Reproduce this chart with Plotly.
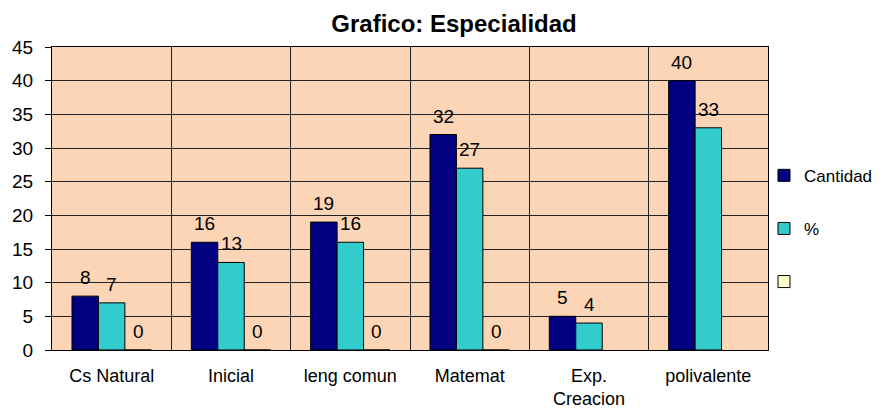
import plotly.graph_objects as go

categories = ["Cs Natural", "Inicial", "leng comun", "Matemat", "Exp.<br>Creacion", "polivalente"]
cantidad = [8, 16, 19, 32, 5, 40]
porcentaje = [7, 13, 16, 27, 4, 33]
tercera = [0, 0, 0, 0, None, None]
y_ticks = [0, 5, 10, 15, 20, 25, 30, 35, 40, 45]

FONT = "Liberation Sans, Arial, sans-serif"

# figure geometry (page has an 8px body margin, so the figure is 8px smaller)
W, H = 882, 401
ML, MR, MT, MB = 44, 122, 39, 59
BARGAP = 0.335
plot_w = W - ML - MR
cat_w = plot_w / len(categories)
bar_w = cat_w * (1 - BARGAP) / 3

fig = go.Figure()
series = [("Cantidad", cantidad, "#000080"), ("%", porcentaje, "#33CCCC"), ("", tercera, "#FFFFCC")]
for i, (name, vals, color) in enumerate(series):
    fig.add_trace(go.Bar(
        x=categories, y=vals, name=name, showlegend=True, legendgroup=f"g{i}",
        marker=dict(color=color, line=dict(color="black", width=1)),
    ))
    for cat, v in zip(categories, vals):
        if v is None:
            continue
        fig.add_annotation(
            x=cat, y=v, xref="x", yref="y", text=str(v), showarrow=False,
            xanchor="center", yanchor="bottom", xshift=(i - 1) * bar_w, yshift=6,
            font=dict(family=FONT, size=19, color="black"),
        )

fig.update_layout(
    width=W, height=H,
    margin=dict(l=ML, r=MR, t=MT, b=MB),
    paper_bgcolor="white", plot_bgcolor="#FBD5B5",
    barmode="group", bargap=BARGAP, bargroupgap=0,
    font=dict(family=FONT, size=19, color="black"),
    title=dict(text="<b>Grafico: Especialidad</b>", x=0.5057, xanchor="center",
               yref="container", y=0.96, yanchor="middle",
               font=dict(family=FONT, size=24, color="black")),
    legend=dict(x=0.9944, xanchor="left", y=0.40, yanchor="middle",
                tracegroupgap=28, itemwidth=30, font=dict(family=FONT, size=17),
                bgcolor="rgba(0,0,0,0)", borderwidth=0),
    xaxis=dict(type="category", tickson="boundaries", showgrid=True, gridcolor="#222222",
               gridwidth=1, showline=True, linecolor="black", linewidth=1, mirror=True,
               ticks="", ticklabelstandoff=9, automargin=False,
               tickfont=dict(family=FONT, size=18)),
    yaxis=dict(range=[0, 45], tickvals=y_ticks, showgrid=True, gridcolor="#222222",
               gridwidth=1, showline=True, linecolor="black", linewidth=1, mirror=True,
               ticks="outside", ticklen=6, tickcolor="black", zeroline=False,
               ticklabelstandoff=8, automargin=False, tickfont=dict(family=FONT, size=19)),
)

fig.write_html("out.html")
